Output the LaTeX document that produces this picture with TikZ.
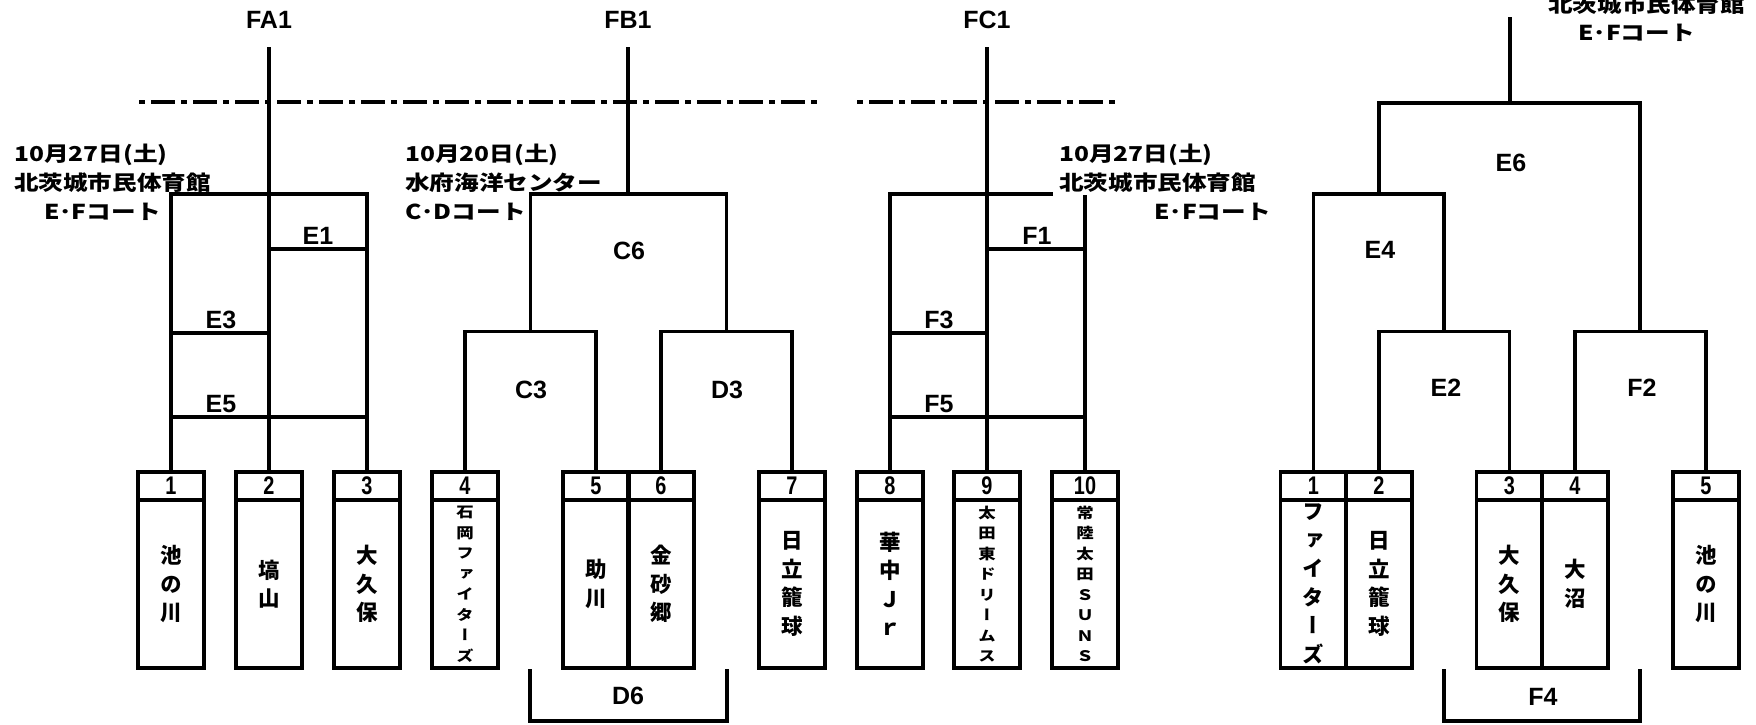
\documentclass[tikz,border=0pt]{standalone}
\usepackage{fontspec}
\newfontfamily\jpw{Noto Sans CJK JP}[FakeStretch=1.2]
\newfontfamily\jpv{Noto Sans CJK JP}[RawFeature=+vert]
\newfontfamily\jpvw{Noto Sans CJK JP}[RawFeature=+vert,FakeStretch=1.2]
\newfontfamily\latf{Liberation Sans}
\newfontfamily\numf{Liberation Sans}[FakeStretch=0.78]
\tikzset{
  ln/.style={line width=3.3pt},
  dashln/.style={line width=4.5pt, dash pattern=on 6pt off 6pt on 24pt off 6pt},
  numbox/.style={draw, line width=3.3pt, minimum width=66pt, minimum height=28pt, inner sep=0pt,
    font=\bfseries\numf\fontsize{25.5}{25.5}\selectfont},
  namebox/.style={draw, line width=3.3pt, minimum width=66pt, minimum height=168pt, inner sep=0pt,
    align=center, font=\bfseries\jpv\fontsize{21.5}{28.5}\selectfont},
  smallname/.style={font=\bfseries\jpvw\fontsize{14.5}{20.5}\selectfont},
  lab/.style={inner sep=0pt, font=\bfseries\latf\fontsize{25}{25}\selectfont},
  info/.style={inner sep=0pt, anchor=base west, font=\bfseries\jpw\fontsize{20.5}{29}\selectfont}
}
\begin{document}
\begin{tikzpicture}[x=1pt,y=-1pt]
\useasboundingbox (0,0) rectangle (1756,724);
\clip (0,0) rectangle (1756,724);

% ---------- boxes, left part ----------
\foreach \n/\x in {1/171,2/269,3/367,4/465,5/596,6/661,7/792,8/890,9/987,10/1085}{
  \node[numbox] (n\n) at (\x,486) {\n};
}
\node[namebox] (t1) at (171,584) {池\\の\\川};
\node[namebox] (t2) at (269,584) {塙\\山};
\node[namebox] (t3) at (367,584) {大\\久\\保};
\node[namebox,smallname] (t4) at (465,584) {石\\岡\\フ\\ァ\\イ\\タ\\ー\\ズ};
\node[namebox] (t5) at (596,584) {助\\川};
\node[namebox] (t6) at (661,584) {金\\砂\\郷};
\node[namebox] (t7) at (792,584) {日\\立\\籠\\球};
\node[namebox] (t8) at (890,584) {華\\中\\Ｊ\\ｒ};
\node[namebox,smallname] (t9) at (987,584) {太\\田\\東\\ド\\リ\\ー\\ム\\ス};
\node[namebox,smallname] (t10) at (1085,584) {常\\陸\\太\\田\\Ｓ\\Ｕ\\Ｎ\\Ｓ};

% ---------- boxes, right part ----------
\foreach \n/\x in {1/1313.5,2/1379,3/1509.5,4/1575,5/1706}{
  \node[numbox] (r\n) at (\x,486) {\n};
}
\node[namebox] (s1) at (1313.5,584) {フ\\ァ\\イ\\タ\\ー\\ズ};
\node[namebox] (s2) at (1379,584) {日\\立\\籠\\球};
\node[namebox] (s3) at (1509.5,584) {大\\久\\保};
\node[namebox] (s4) at (1575,584) {大\\沼};
\node[namebox] (s5) at (1706,584) {池\\の\\川};

% ---------- top labels ----------
\node[lab] (fa1) at (269,20) {FA1};
\node[lab] (fb1) at (628,20) {FB1};
\node[lab] (fc1) at (987,20) {FC1};
\coordinate (fa1end) at (269,47);
\coordinate (fb1end) at (628,47);
\coordinate (fc1end) at (987,47);
\coordinate (rtop) at (1510,17);

% ---------- dash-dot line ----------
\coordinate (da) at (139,102); \coordinate (db) at (818,102);
\coordinate (dc) at (857,102); \coordinate (dd) at (1115,102);
\draw[dashln] (da) -- (db);
\draw[dashln] (dc) -- (dd);

% ---------- E group ----------
\draw[ln] (n1.north) |- (367,194) -| (n3.north);
\draw[ln] (fa1end) -- (n2.north);
\draw[ln] (269,249) -- (367,249);
\draw[ln] (171,333) -- (269,333);
\draw[ln] (171,417) -- (367,417);
\node[lab] (lE1) at (318,236) {E1};
\node[lab] (lE3) at (221,320) {E3};
\node[lab] (lE5) at (221,404) {E5};

% ---------- C/D group ----------
\draw[ln] (fb1end) -- (628,194);
\draw[ln] (530.5,333) |- (726.5,194) -- (726.5,333);
\draw[ln] (n4.north) -- ++(0,-139) -| (n5.north);
\draw[ln] (n6.north) -- ++(0,-139) -| (n7.north);
\node[lab] (lC6) at (629,251) {C6};
\node[lab] (lC3) at (531,390) {C3};
\node[lab] (lD3) at (727,390) {D3};
\draw[ln] (530,669) |- (727,721) -- (727,669);
\node[lab] (lD6) at (628,696) {D6};

% ---------- F group ----------
\draw[ln] (fc1end) -- (n9.north);
\draw[ln] (n8.north) |- (1053,194);
\draw[ln] (n10.north) -- (1085,195);
\draw[ln] (987,249) -- (1085,249);
\draw[ln] (890,333) -- (987,333);
\draw[ln] (890,417) -- (1085,417);
\node[lab] (lF1) at (1037,236) {F1};
\node[lab] (lF3) at (939,320) {F3};
\node[lab] (lF5) at (939,404) {F5};

% ---------- right bracket ----------
\draw[ln] (rtop) -- (1510,103);
\draw[ln] (1379,194) |- (1640,103) -- (1640,333);
\draw[ln] (r1.north) |- (1444,194) -- (1444,333);
\draw[ln] (r2.north) -- ++(0,-139) -| (r3.north);
\draw[ln] (r4.north) -- ++(0,-139) -| (r5.north);
\node[lab] (lE6) at (1511,163) {E6};
\node[lab] (lE4) at (1380,250) {E4};
\node[lab] (lE2) at (1446,388) {E2};
\node[lab] (lF2) at (1642,388) {F2};
\draw[ln] (1444,669) |- (1640,721) -- (1640,669);
\node[lab] (lF4) at (1543,697) {F4};

% ---------- venue texts ----------
\node[info] (i1a) at (14,161) {10月27日(土)};
\node[info] (i1b) at (14,190) {北茨城市民体育館};
\node[info] (i1c) at (44,219) {E･Fコート};
\node[info] (i2a) at (405,161) {10月20日(土)};
\node[info] (i2b) at (405,190) {水府海洋センター};
\node[info] (i2c) at (405,219) {C･Dコート};
\node[info] (i3a) at (1059,161) {10月27日(土)};
\node[info] (i3b) at (1059,190) {北茨城市民体育館};
\node[info] (i3c) at (1154,219) {E･Fコート};
\node[info] (i4b) at (1548,12) {北茨城市民体育館};
\node[info] (i4c) at (1578,40) {E･Fコート};
\end{tikzpicture}
\end{document}
